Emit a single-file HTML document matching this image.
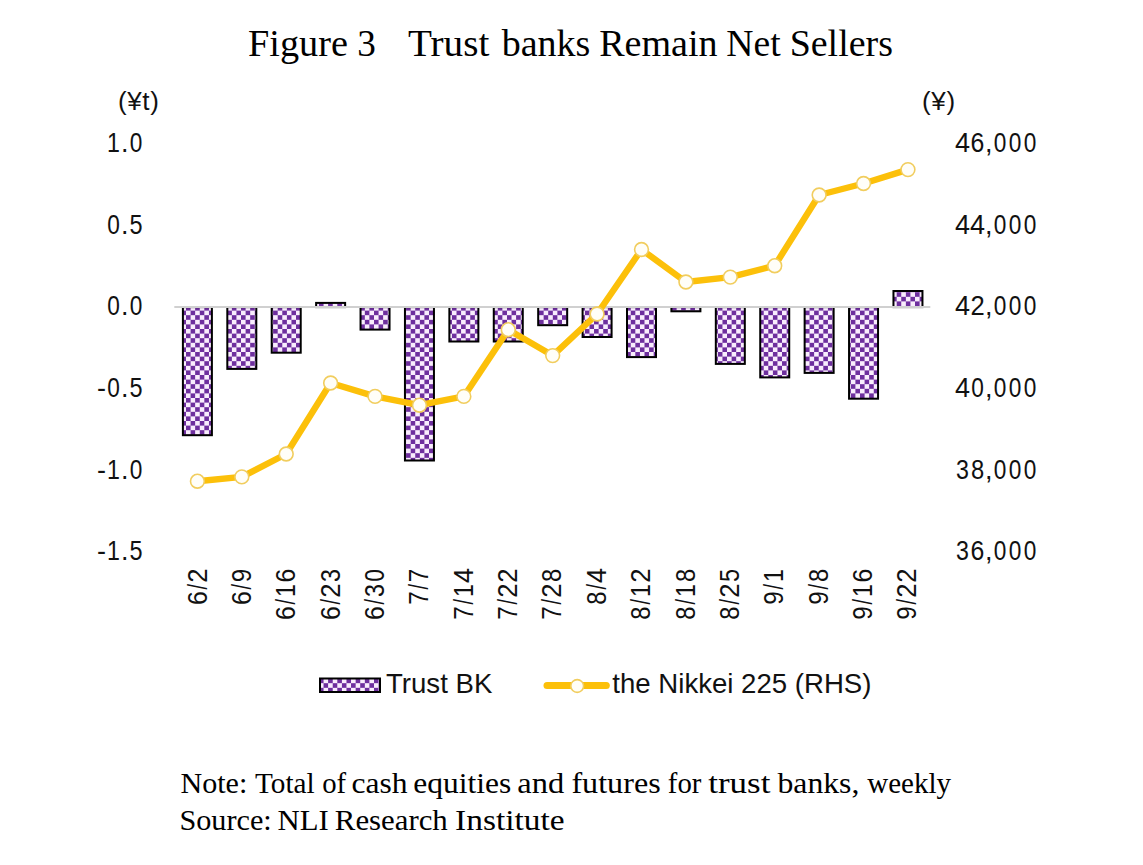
<!DOCTYPE html>
<html><head><meta charset="utf-8"><style>
html,body{margin:0;padding:0;background:#fff;width:1143px;height:865px;overflow:hidden}
svg{display:block}
.s{font-family:"Liberation Sans",sans-serif;font-size:27px;fill:#111}
.t{font-family:"Liberation Serif",serif;fill:#000}
</style></head><body>
<svg width="1143" height="865" viewBox="0 0 1143 865">
<defs>
<pattern id="chk" patternUnits="userSpaceOnUse" x="2.6" y="2.4" width="9.17" height="9.2">
<rect width="9.17" height="9.2" fill="#F9EDFD"/>
<rect x="0" y="0" width="4.585" height="4.6" fill="#6E2F9E"/>
<rect x="4.585" y="4.6" width="4.585" height="4.6" fill="#6E2F9E"/>
</pattern>
</defs>
<rect width="1143" height="865" fill="#fff"/>
<text class="t" transform="translate(247.97,55.5) scale(1.0347,1)" font-size="37">Figure</text>
<text class="t" transform="translate(357.19,55.5) scale(1.0067,1)" font-size="37">3</text>
<text class="t" transform="translate(407.94,55.5) scale(1.0592,1)" font-size="37">Trust</text>
<text class="t" transform="translate(501.7,55.5) scale(1.0271,1)" font-size="37">banks</text>
<text class="t" transform="translate(599.17,55.5) scale(1.0298,1)" font-size="37">Remain</text>
<text class="t" transform="translate(726.28,55.5) scale(1.017,1)" font-size="37">Net</text>
<text class="t" transform="translate(789.65,55.5) scale(1.0265,1)" font-size="37">Sellers</text>
<g class="s">
<text x="118" y="110" style="font-size:26px" letter-spacing="0.6">(¥t)</text>
<text x="922" y="110" style="font-size:26px" letter-spacing="0.7">(¥)</text>
<text transform="translate(113.47,152.20) scale(0.86,1)" text-anchor="middle">1</text><text transform="translate(124.73,152.20) scale(1.0,1)" text-anchor="middle">.</text><text transform="translate(135.99,152.20) scale(0.84,1)" text-anchor="middle">0</text>
<text transform="translate(962.51,152.20) scale(1.0,1)" text-anchor="middle">4</text><text transform="translate(977.52,152.20) scale(0.92,1)" text-anchor="middle">6</text><text transform="translate(988.78,152.20) scale(1.0,1)" text-anchor="middle">,</text><text transform="translate(1000.04,152.20) scale(0.84,1)" text-anchor="middle">0</text><text transform="translate(1015.06,152.20) scale(0.84,1)" text-anchor="middle">0</text><text transform="translate(1030.07,152.20) scale(0.84,1)" text-anchor="middle">0</text>
<text transform="translate(113.47,233.80) scale(0.84,1)" text-anchor="middle">0</text><text transform="translate(124.73,233.80) scale(1.0,1)" text-anchor="middle">.</text><text transform="translate(135.99,233.80) scale(0.87,1)" text-anchor="middle">5</text>
<text transform="translate(962.51,233.80) scale(1.0,1)" text-anchor="middle">4</text><text transform="translate(977.52,233.80) scale(1.0,1)" text-anchor="middle">4</text><text transform="translate(988.78,233.80) scale(1.0,1)" text-anchor="middle">,</text><text transform="translate(1000.04,233.80) scale(0.84,1)" text-anchor="middle">0</text><text transform="translate(1015.06,233.80) scale(0.84,1)" text-anchor="middle">0</text><text transform="translate(1030.07,233.80) scale(0.84,1)" text-anchor="middle">0</text>
<text transform="translate(113.47,315.40) scale(0.84,1)" text-anchor="middle">0</text><text transform="translate(124.73,315.40) scale(1.0,1)" text-anchor="middle">.</text><text transform="translate(135.99,315.40) scale(0.84,1)" text-anchor="middle">0</text>
<text transform="translate(962.51,315.40) scale(1.0,1)" text-anchor="middle">4</text><text transform="translate(977.52,315.40) scale(0.95,1)" text-anchor="middle">2</text><text transform="translate(988.78,315.40) scale(1.0,1)" text-anchor="middle">,</text><text transform="translate(1000.04,315.40) scale(0.84,1)" text-anchor="middle">0</text><text transform="translate(1015.06,315.40) scale(0.84,1)" text-anchor="middle">0</text><text transform="translate(1030.07,315.40) scale(0.84,1)" text-anchor="middle">0</text>
<text transform="translate(101.47,397.00) scale(1.0,1)" text-anchor="middle">-</text><text transform="translate(113.47,397.00) scale(0.84,1)" text-anchor="middle">0</text><text transform="translate(124.73,397.00) scale(1.0,1)" text-anchor="middle">.</text><text transform="translate(135.99,397.00) scale(0.87,1)" text-anchor="middle">5</text>
<text transform="translate(962.51,397.00) scale(1.0,1)" text-anchor="middle">4</text><text transform="translate(977.52,397.00) scale(0.84,1)" text-anchor="middle">0</text><text transform="translate(988.78,397.00) scale(1.0,1)" text-anchor="middle">,</text><text transform="translate(1000.04,397.00) scale(0.84,1)" text-anchor="middle">0</text><text transform="translate(1015.06,397.00) scale(0.84,1)" text-anchor="middle">0</text><text transform="translate(1030.07,397.00) scale(0.84,1)" text-anchor="middle">0</text>
<text transform="translate(101.47,478.60) scale(1.0,1)" text-anchor="middle">-</text><text transform="translate(113.47,478.60) scale(0.86,1)" text-anchor="middle">1</text><text transform="translate(124.73,478.60) scale(1.0,1)" text-anchor="middle">.</text><text transform="translate(135.99,478.60) scale(0.84,1)" text-anchor="middle">0</text>
<text transform="translate(962.51,478.60) scale(0.86,1)" text-anchor="middle">3</text><text transform="translate(977.52,478.60) scale(0.88,1)" text-anchor="middle">8</text><text transform="translate(988.78,478.60) scale(1.0,1)" text-anchor="middle">,</text><text transform="translate(1000.04,478.60) scale(0.84,1)" text-anchor="middle">0</text><text transform="translate(1015.06,478.60) scale(0.84,1)" text-anchor="middle">0</text><text transform="translate(1030.07,478.60) scale(0.84,1)" text-anchor="middle">0</text>
<text transform="translate(101.47,560.20) scale(1.0,1)" text-anchor="middle">-</text><text transform="translate(113.47,560.20) scale(0.86,1)" text-anchor="middle">1</text><text transform="translate(124.73,560.20) scale(1.0,1)" text-anchor="middle">.</text><text transform="translate(135.99,560.20) scale(0.87,1)" text-anchor="middle">5</text>
<text transform="translate(962.51,560.20) scale(0.86,1)" text-anchor="middle">3</text><text transform="translate(977.52,560.20) scale(0.92,1)" text-anchor="middle">6</text><text transform="translate(988.78,560.20) scale(1.0,1)" text-anchor="middle">,</text><text transform="translate(1000.04,560.20) scale(0.84,1)" text-anchor="middle">0</text><text transform="translate(1015.06,560.20) scale(0.84,1)" text-anchor="middle">0</text><text transform="translate(1030.07,560.20) scale(0.84,1)" text-anchor="middle">0</text>
<g transform="translate(206.60,568) rotate(-90)"><text transform="translate(-30.03,0.00) scale(0.92,1)" text-anchor="middle">6</text><text transform="translate(-18.77,0.00) scale(0.75,1)" text-anchor="middle">/</text><text transform="translate(-7.51,0.00) scale(0.95,1)" text-anchor="middle">2</text></g>
<g transform="translate(250.96,568) rotate(-90)"><text transform="translate(-30.03,0.00) scale(0.92,1)" text-anchor="middle">6</text><text transform="translate(-18.77,0.00) scale(0.75,1)" text-anchor="middle">/</text><text transform="translate(-7.51,0.00) scale(0.9,1)" text-anchor="middle">9</text></g>
<g transform="translate(295.32,568) rotate(-90)"><text transform="translate(-45.04,0.00) scale(0.92,1)" text-anchor="middle">6</text><text transform="translate(-33.78,0.00) scale(0.75,1)" text-anchor="middle">/</text><text transform="translate(-22.52,0.00) scale(0.86,1)" text-anchor="middle">1</text><text transform="translate(-7.51,0.00) scale(0.92,1)" text-anchor="middle">6</text></g>
<g transform="translate(339.68,568) rotate(-90)"><text transform="translate(-45.04,0.00) scale(0.92,1)" text-anchor="middle">6</text><text transform="translate(-33.78,0.00) scale(0.75,1)" text-anchor="middle">/</text><text transform="translate(-22.52,0.00) scale(0.95,1)" text-anchor="middle">2</text><text transform="translate(-7.51,0.00) scale(0.86,1)" text-anchor="middle">3</text></g>
<g transform="translate(384.04,568) rotate(-90)"><text transform="translate(-45.04,0.00) scale(0.92,1)" text-anchor="middle">6</text><text transform="translate(-33.78,0.00) scale(0.75,1)" text-anchor="middle">/</text><text transform="translate(-22.52,0.00) scale(0.86,1)" text-anchor="middle">3</text><text transform="translate(-7.51,0.00) scale(0.84,1)" text-anchor="middle">0</text></g>
<g transform="translate(428.40,568) rotate(-90)"><text transform="translate(-30.03,0.00) scale(0.9,1)" text-anchor="middle">7</text><text transform="translate(-18.77,0.00) scale(0.75,1)" text-anchor="middle">/</text><text transform="translate(-7.51,0.00) scale(0.9,1)" text-anchor="middle">7</text></g>
<g transform="translate(472.76,568) rotate(-90)"><text transform="translate(-45.04,0.00) scale(0.9,1)" text-anchor="middle">7</text><text transform="translate(-33.78,0.00) scale(0.75,1)" text-anchor="middle">/</text><text transform="translate(-22.52,0.00) scale(0.86,1)" text-anchor="middle">1</text><text transform="translate(-7.51,0.00) scale(1.0,1)" text-anchor="middle">4</text></g>
<g transform="translate(517.12,568) rotate(-90)"><text transform="translate(-45.04,0.00) scale(0.9,1)" text-anchor="middle">7</text><text transform="translate(-33.78,0.00) scale(0.75,1)" text-anchor="middle">/</text><text transform="translate(-22.52,0.00) scale(0.95,1)" text-anchor="middle">2</text><text transform="translate(-7.51,0.00) scale(0.95,1)" text-anchor="middle">2</text></g>
<g transform="translate(561.48,568) rotate(-90)"><text transform="translate(-45.04,0.00) scale(0.9,1)" text-anchor="middle">7</text><text transform="translate(-33.78,0.00) scale(0.75,1)" text-anchor="middle">/</text><text transform="translate(-22.52,0.00) scale(0.95,1)" text-anchor="middle">2</text><text transform="translate(-7.51,0.00) scale(0.88,1)" text-anchor="middle">8</text></g>
<g transform="translate(605.84,568) rotate(-90)"><text transform="translate(-30.03,0.00) scale(0.88,1)" text-anchor="middle">8</text><text transform="translate(-18.77,0.00) scale(0.75,1)" text-anchor="middle">/</text><text transform="translate(-7.51,0.00) scale(1.0,1)" text-anchor="middle">4</text></g>
<g transform="translate(650.20,568) rotate(-90)"><text transform="translate(-45.04,0.00) scale(0.88,1)" text-anchor="middle">8</text><text transform="translate(-33.78,0.00) scale(0.75,1)" text-anchor="middle">/</text><text transform="translate(-22.52,0.00) scale(0.86,1)" text-anchor="middle">1</text><text transform="translate(-7.51,0.00) scale(0.95,1)" text-anchor="middle">2</text></g>
<g transform="translate(694.56,568) rotate(-90)"><text transform="translate(-45.04,0.00) scale(0.88,1)" text-anchor="middle">8</text><text transform="translate(-33.78,0.00) scale(0.75,1)" text-anchor="middle">/</text><text transform="translate(-22.52,0.00) scale(0.86,1)" text-anchor="middle">1</text><text transform="translate(-7.51,0.00) scale(0.88,1)" text-anchor="middle">8</text></g>
<g transform="translate(738.92,568) rotate(-90)"><text transform="translate(-45.04,0.00) scale(0.88,1)" text-anchor="middle">8</text><text transform="translate(-33.78,0.00) scale(0.75,1)" text-anchor="middle">/</text><text transform="translate(-22.52,0.00) scale(0.95,1)" text-anchor="middle">2</text><text transform="translate(-7.51,0.00) scale(0.87,1)" text-anchor="middle">5</text></g>
<g transform="translate(783.28,568) rotate(-90)"><text transform="translate(-30.03,0.00) scale(0.9,1)" text-anchor="middle">9</text><text transform="translate(-18.77,0.00) scale(0.75,1)" text-anchor="middle">/</text><text transform="translate(-7.51,0.00) scale(0.86,1)" text-anchor="middle">1</text></g>
<g transform="translate(827.64,568) rotate(-90)"><text transform="translate(-30.03,0.00) scale(0.9,1)" text-anchor="middle">9</text><text transform="translate(-18.77,0.00) scale(0.75,1)" text-anchor="middle">/</text><text transform="translate(-7.51,0.00) scale(0.88,1)" text-anchor="middle">8</text></g>
<g transform="translate(872.00,568) rotate(-90)"><text transform="translate(-45.04,0.00) scale(0.9,1)" text-anchor="middle">9</text><text transform="translate(-33.78,0.00) scale(0.75,1)" text-anchor="middle">/</text><text transform="translate(-22.52,0.00) scale(0.86,1)" text-anchor="middle">1</text><text transform="translate(-7.51,0.00) scale(0.92,1)" text-anchor="middle">6</text></g>
<g transform="translate(916.36,568) rotate(-90)"><text transform="translate(-45.04,0.00) scale(0.9,1)" text-anchor="middle">9</text><text transform="translate(-33.78,0.00) scale(0.75,1)" text-anchor="middle">/</text><text transform="translate(-22.52,0.00) scale(0.95,1)" text-anchor="middle">2</text><text transform="translate(-7.51,0.00) scale(0.95,1)" text-anchor="middle">2</text></g>
</g>
<rect x="182.90" y="307.10" width="29.00" height="128.10" fill="url(#chk)" stroke="#000" stroke-width="2.0"/>
<rect x="227.31" y="307.10" width="29.00" height="61.80" fill="url(#chk)" stroke="#000" stroke-width="2.0"/>
<rect x="271.72" y="307.10" width="29.00" height="45.60" fill="url(#chk)" stroke="#000" stroke-width="2.0"/>
<rect x="316.13" y="302.90" width="29.00" height="4.20" fill="url(#chk)" stroke="#000" stroke-width="2.0"/>
<rect x="360.54" y="307.10" width="29.00" height="22.50" fill="url(#chk)" stroke="#000" stroke-width="2.0"/>
<rect x="404.95" y="307.10" width="29.00" height="153.40" fill="url(#chk)" stroke="#000" stroke-width="2.0"/>
<rect x="449.36" y="307.10" width="29.00" height="34.40" fill="url(#chk)" stroke="#000" stroke-width="2.0"/>
<rect x="493.77" y="307.10" width="29.00" height="34.40" fill="url(#chk)" stroke="#000" stroke-width="2.0"/>
<rect x="538.18" y="307.10" width="29.00" height="18.10" fill="url(#chk)" stroke="#000" stroke-width="2.0"/>
<rect x="582.59" y="307.10" width="29.00" height="29.90" fill="url(#chk)" stroke="#000" stroke-width="2.0"/>
<rect x="627.00" y="307.10" width="29.00" height="50.00" fill="url(#chk)" stroke="#000" stroke-width="2.0"/>
<rect x="671.41" y="307.10" width="29.00" height="4.20" fill="url(#chk)" stroke="#000" stroke-width="2.0"/>
<rect x="715.82" y="307.10" width="29.00" height="56.80" fill="url(#chk)" stroke="#000" stroke-width="2.0"/>
<rect x="760.23" y="307.10" width="29.00" height="70.30" fill="url(#chk)" stroke="#000" stroke-width="2.0"/>
<rect x="804.64" y="307.10" width="29.00" height="65.80" fill="url(#chk)" stroke="#000" stroke-width="2.0"/>
<rect x="849.05" y="307.10" width="29.00" height="91.60" fill="url(#chk)" stroke="#000" stroke-width="2.0"/>
<rect x="893.46" y="291.00" width="29.00" height="16.10" fill="url(#chk)" stroke="#000" stroke-width="2.0"/>
<line x1="174.3" y1="307.1" x2="930.3" y2="307.1" stroke="#D0D0D0" stroke-width="2"/>
<polyline points="197.40,481.20 241.81,476.90 286.22,454.00 330.63,383.00 375.04,396.40 419.45,405.20 463.86,396.40 508.27,329.70 552.68,355.60 597.09,314.00 641.50,249.50 685.91,282.00 730.32,277.10 774.73,265.70 819.14,195.00 863.55,183.50 907.96,169.60" fill="none" stroke="#FCC00A" stroke-width="6.4" stroke-linejoin="round"/>
<circle cx="197.40" cy="481.20" r="6.9" fill="#FFFEF8" stroke="#F1CD5E" stroke-width="1.6"/>
<circle cx="241.81" cy="476.90" r="6.9" fill="#FFFEF8" stroke="#F1CD5E" stroke-width="1.6"/>
<circle cx="286.22" cy="454.00" r="6.9" fill="#FFFEF8" stroke="#F1CD5E" stroke-width="1.6"/>
<circle cx="330.63" cy="383.00" r="6.9" fill="#FFFEF8" stroke="#F1CD5E" stroke-width="1.6"/>
<circle cx="375.04" cy="396.40" r="6.9" fill="#FFFEF8" stroke="#F1CD5E" stroke-width="1.6"/>
<circle cx="419.45" cy="405.20" r="6.9" fill="#FFFEF8" stroke="#F1CD5E" stroke-width="1.6"/>
<circle cx="463.86" cy="396.40" r="6.9" fill="#FFFEF8" stroke="#F1CD5E" stroke-width="1.6"/>
<circle cx="508.27" cy="329.70" r="6.9" fill="#FFFEF8" stroke="#F1CD5E" stroke-width="1.6"/>
<circle cx="552.68" cy="355.60" r="6.9" fill="#FFFEF8" stroke="#F1CD5E" stroke-width="1.6"/>
<circle cx="597.09" cy="314.00" r="6.9" fill="#FFFEF8" stroke="#F1CD5E" stroke-width="1.6"/>
<circle cx="641.50" cy="249.50" r="6.9" fill="#FFFEF8" stroke="#F1CD5E" stroke-width="1.6"/>
<circle cx="685.91" cy="282.00" r="6.9" fill="#FFFEF8" stroke="#F1CD5E" stroke-width="1.6"/>
<circle cx="730.32" cy="277.10" r="6.9" fill="#FFFEF8" stroke="#F1CD5E" stroke-width="1.6"/>
<circle cx="774.73" cy="265.70" r="6.9" fill="#FFFEF8" stroke="#F1CD5E" stroke-width="1.6"/>
<circle cx="819.14" cy="195.00" r="6.9" fill="#FFFEF8" stroke="#F1CD5E" stroke-width="1.6"/>
<circle cx="863.55" cy="183.50" r="6.9" fill="#FFFEF8" stroke="#F1CD5E" stroke-width="1.6"/>
<circle cx="907.96" cy="169.60" r="6.9" fill="#FFFEF8" stroke="#F1CD5E" stroke-width="1.6"/>
<rect x="320" y="678.5" width="60" height="13.5" fill="url(#chk)" stroke="#000" stroke-width="2"/>
<text class="s" x="386" y="692.8" style="font-size:27.6px">Trust BK</text>
<line x1="547" y1="685.4" x2="606.3" y2="685.4" stroke="#FCC00A" stroke-width="7" stroke-linecap="round"/>
<circle cx="577.2" cy="686" r="6.4" fill="#FFFEF8" stroke="#F1CD5E" stroke-width="1.6"/>
<text class="s" x="612.3" y="692.8" style="font-size:27.6px">the Nikkei 225 (RHS)</text>
<text class="t" transform="translate(180.46,792.8) scale(1.0377,1)" font-size="29">Note:</text>
<text class="t" transform="translate(255.0,792.8) scale(1.0085,1)" font-size="29">Total</text>
<text class="t" transform="translate(322.21,792.8) scale(0.9913,1)" font-size="29">of</text>
<text class="t" transform="translate(351.51,792.8) scale(1.088,1)" font-size="29">cash</text>
<text class="t" transform="translate(413.31,792.8) scale(1.0864,1)" font-size="29">equities</text>
<text class="t" transform="translate(517.28,792.8) scale(1.1195,1)" font-size="29">and</text>
<text class="t" transform="translate(571.39,792.8) scale(1.1089,1)" font-size="29">futures</text>
<text class="t" transform="translate(667.81,792.8) scale(0.9909,1)" font-size="29">for</text>
<text class="t" transform="translate(708.2,792.8) scale(1.2078,1)" font-size="29">trust</text>
<text class="t" transform="translate(777.5,792.8) scale(1.0932,1)" font-size="29">banks,</text>
<text class="t" transform="translate(867.2,792.8) scale(1.0,1)" font-size="29">weekly</text>
<text class="t" transform="translate(179.42,829.6) scale(1.0417,1)" font-size="29">Source:</text>
<text class="t" transform="translate(277.54,829.6) scale(1.0617,1)" font-size="29">NLI</text>
<text class="t" transform="translate(334.84,829.6) scale(1.0629,1)" font-size="29">Research</text>
<text class="t" transform="translate(455.05,829.6) scale(1.1527,1)" font-size="29">Institute</text>
</svg>
</body></html>
